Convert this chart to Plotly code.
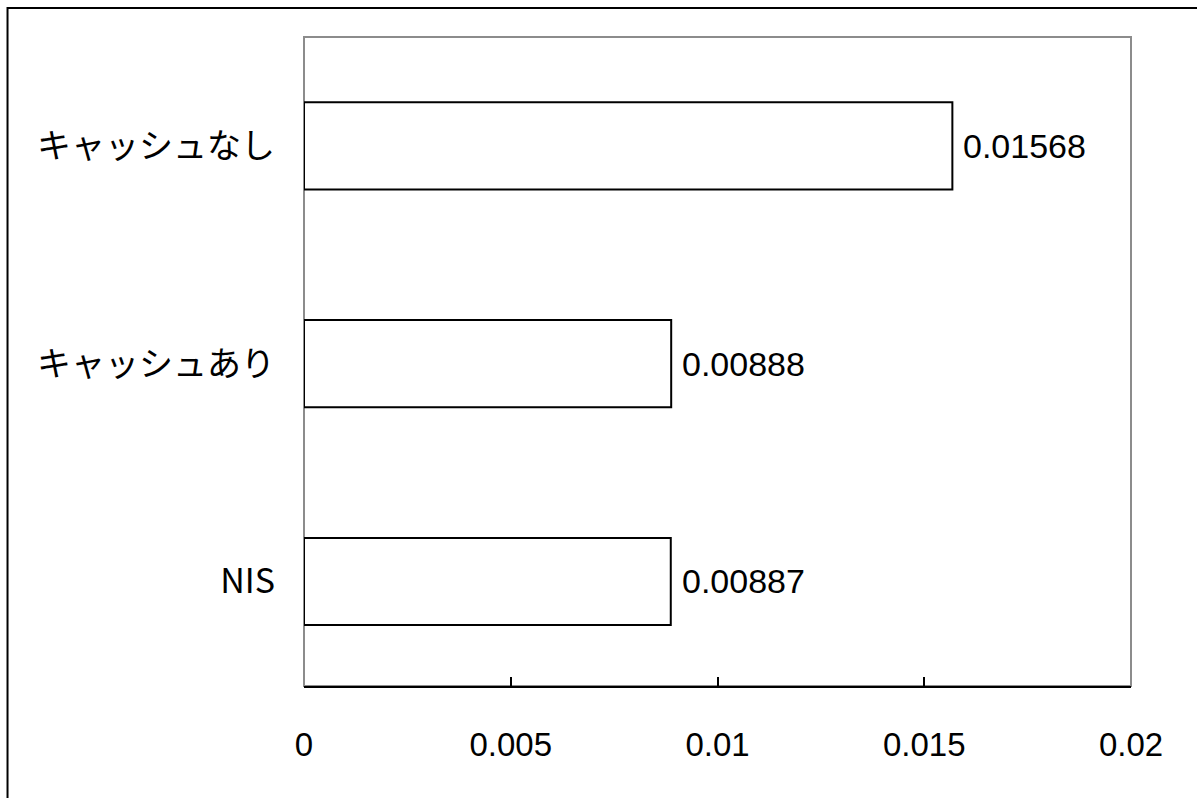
import plotly.graph_objects as go

categories = ["NIS", "キャッシュあり", "キャッシュなし"]
values = [0.00887, 0.00888, 0.01568]
value_labels = ["0.00887", "0.00888", "0.01568"]
tick_vals = [0, 0.005, 0.01, 0.015, 0.02]
tick_text = ["0", "0.005", "0.01", "0.015", "0.02"]

FONT = "Liberation Sans, Arial, Noto Sans CJK JP, sans-serif"

fig = go.Figure()
fig.add_trace(go.Bar(
    y=categories, x=values, orientation="h",
    marker=dict(color="white", line=dict(color="black", width=2)),
    width=0.4, showlegend=False, hoverinfo="skip",
))

for c, v, t in zip(categories, values, value_labels):
    fig.add_annotation(x=v, y=c, text=t, showarrow=False, xanchor="left",
                       xshift=9, font=dict(family=FONT, size=34, color="black"))

# gray plot-area frame
fig.add_shape(type="rect", xref="paper", yref="paper", x0=0, x1=1, y0=0, y1=1,
              line=dict(color="#8c8c8c", width=2), layer="below")
# outer chart frame
fig.add_shape(type="rect", xref="paper", yref="paper", x0=-0.3585, x1=1.09,
              y0=-0.2, y1=1.0445, line=dict(color="black", width=2))

fig.update_layout(
    width=1197, height=798,
    margin=dict(l=304, r=66, t=37, b=112),
    plot_bgcolor="white", paper_bgcolor="white",
    font=dict(family=FONT, size=32, color="black"),
    xaxis=dict(range=[0, 0.02], tickvals=tick_vals, ticktext=tick_text,
               showgrid=False, zeroline=False, showline=True, linecolor="black",
               linewidth=2, ticks="inside", ticklen=9, tickwidth=2, tickcolor="black",
               ticklabelstandoff=28, tickfont=dict(family=FONT, size=33)),
    yaxis=dict(range=[-0.48, 2.5], showgrid=False, zeroline=False, showline=False,
               ticks="", ticklabelstandoff=28,
               tickfont=dict(family="Noto Sans CJK JP, Liberation Sans, sans-serif", size=34)),
)

fig.write_html("out.html")
